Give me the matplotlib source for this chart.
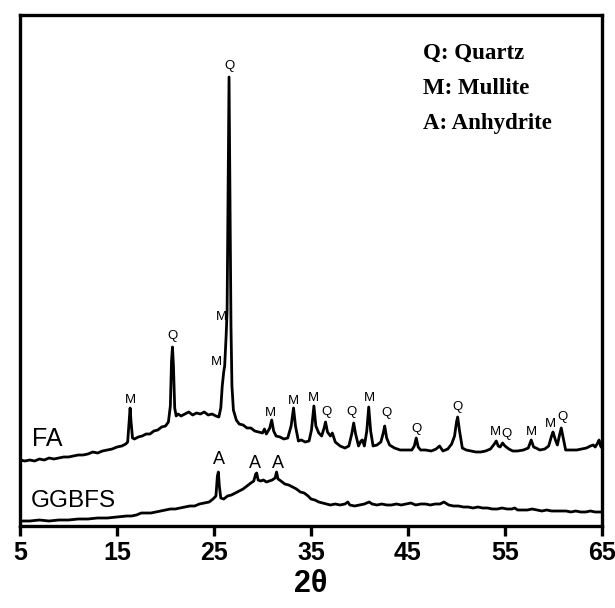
import matplotlib
matplotlib.use("Agg")
import matplotlib.pyplot as plt

# ---- data (2theta, intensity in arbitrary units) ----
fa_x = [5.0, 5.5, 6.0, 6.5, 7.0, 7.5, 8.0, 8.5, 9.0, 9.5, 10.0, 10.5, 11.0, 11.5, 12.0, 12.5,
        13.0, 13.5, 14.0, 14.5, 15.0, 15.5, 15.9, 16.1, 16.25, 16.35, 16.45, 16.6, 16.8, 17.2,
        17.6, 18.0, 18.4, 18.8, 19.2, 19.6, 20.0, 20.3, 20.5, 20.62, 20.72, 20.82, 20.95, 21.1,
        21.3, 21.6, 22.0, 22.4, 22.8, 23.2, 23.6, 24.0, 24.4, 24.8, 25.2, 25.5, 25.7, 25.85,
        26.0, 26.1, 26.25, 26.35, 26.45, 26.55, 26.65, 26.75, 26.85, 27.0, 27.3, 27.6, 28.0,
        28.4, 28.8, 29.2, 29.6, 30.0, 30.2, 30.4, 30.75, 30.95, 31.15, 31.4, 31.8, 32.2, 32.6,
        32.95, 33.2, 33.4, 33.7, 34.0, 34.4, 34.8, 35.05, 35.3, 35.5, 35.8, 36.1, 36.35, 36.5,
        36.7, 37.0, 37.2, 37.5, 38.0, 38.5, 38.9, 39.2, 39.4, 39.6, 39.9, 40.15, 40.3, 40.5,
        40.75, 40.95, 41.15, 41.4, 41.8, 42.2, 42.45, 42.6, 42.8, 43.1, 43.6, 44.2, 44.8, 45.4,
        45.65, 45.85, 46.05, 46.3, 46.8, 47.4, 47.9, 48.25, 48.6, 49.1, 49.5, 49.8, 50.0, 50.12,
        50.3, 50.6, 51.0, 51.5, 52.0, 52.5, 53.0, 53.5, 53.9, 54.1, 54.3, 54.5, 54.75, 55.0,
        55.4, 55.8, 56.3, 56.9, 57.4, 57.7, 57.95, 58.2, 58.6, 59.1, 59.5, 59.8, 59.95, 60.2,
        60.4, 60.6, 60.8, 61.0, 61.25, 61.8, 62.4, 62.9, 63.4, 63.8, 64.1, 64.3, 64.55, 64.7,
        64.85, 65.0]
fa_y = [66, 65, 66, 65, 67, 66, 68, 67, 68, 69, 69, 70, 71, 71, 72, 74,
        73, 75, 76, 77, 79, 80, 82, 84, 105, 118, 104, 88, 87, 89,
        90, 92, 92, 95, 96, 99, 100, 104, 120, 165, 179, 160, 118, 110,
        112, 110, 112, 114, 111, 113, 112, 114, 111, 112, 110, 109, 118, 140,
        154, 160, 190, 215, 330, 449, 330, 200, 140, 116, 106, 102, 101,
        98, 98, 95, 94, 93, 97, 92, 98, 106, 95, 90, 89, 87, 88,
        100, 118, 100, 85, 86, 84, 85, 96, 120, 100, 93, 90, 98, 104,
        94, 90, 93, 84, 80, 78, 80, 92, 103, 92, 80, 85, 86, 80,
        95, 119, 95, 80, 81, 84, 93, 100, 88, 81, 78, 76, 76, 76,
        80, 88, 79, 76, 76, 75, 77, 80, 75, 77, 82, 90, 104, 109,
        96, 78, 76, 75, 74, 74, 75, 77, 82, 85, 80, 79, 83, 80,
        77, 75, 75, 76, 78, 86, 79, 78, 76, 77, 80, 90, 94, 86,
        81, 90, 98, 88, 76, 76, 76, 77, 78, 80, 81, 79, 83, 86,
        80, 78]

gg_x = [5.0, 6.0, 7.0, 8.0, 9.0, 10.0, 11.0, 12.0, 13.0, 14.0, 15.0, 16.0, 16.5, 17.0, 17.5,
        18.0, 18.5, 19.0, 19.5, 20.0, 20.5, 21.0, 21.5, 22.0, 22.5, 23.0, 23.5, 24.0, 24.5,
        24.9, 25.2, 25.35, 25.45, 25.55, 25.7, 26.0, 26.4, 26.8, 27.2, 27.6, 28.0, 28.4, 28.8,
        29.1, 29.3, 29.4, 29.55, 29.8, 30.1, 30.4, 30.7, 31.0, 31.3, 31.45, 31.6, 31.9, 32.3,
        32.7, 33.1, 33.5, 33.9, 34.3, 34.7, 35.0, 35.4, 35.8, 36.2, 36.6, 37.0, 37.5, 38.0,
        38.5, 38.8, 39.0, 39.5, 40.0, 40.5, 41.0, 41.3, 41.8, 42.3, 42.8, 43.3, 43.8, 44.3,
        44.8, 45.3, 45.8, 46.3, 46.8, 47.3, 47.8, 48.3, 48.7, 49.2, 49.7, 50.2, 50.7, 51.2,
        51.7, 52.2, 52.7, 53.2, 53.7, 54.2, 54.7, 55.2, 55.7, 56.0, 56.3, 56.8, 57.3, 57.8,
        58.3, 58.8, 59.3, 59.8, 60.3, 60.8, 61.3, 61.8, 62.3, 62.8, 63.3, 63.8, 64.3, 65.0]
gg_y = [5, 5, 6, 5, 6, 6, 7, 7, 8, 8, 9, 10, 10, 11, 13,
        13, 13, 14, 15, 16, 17, 17, 18, 19, 20, 20, 22, 23, 24,
        27, 30, 50, 54, 40, 28, 27, 30, 31, 33, 35, 37, 40, 43,
        45, 52, 53, 46, 45, 46, 44, 45, 46, 48, 54, 47, 45, 42,
        41, 39, 37, 34, 33, 30, 27, 26, 24, 23, 22, 21, 22, 21,
        22, 24, 21, 20, 21, 22, 24, 22, 21, 22, 21, 21, 22, 21,
        22, 23, 21, 22, 22, 21, 22, 22, 24, 21, 20, 20, 19, 19,
        18, 19, 18, 18, 17, 17, 18, 17, 17, 18, 16, 16, 16, 17,
        16, 15, 16, 15, 15, 15, 15, 14, 15, 14, 14, 15, 14, 14]

# peak labels
pk_text = ["M", "Q", "M", "M", "Q", "M", "M", "M", "Q", "Q", "M", "Q", "Q", "Q",
           "M", "Q", "M", "M", "Q"]
pk_x = [16.38, 20.72, 25.3, 25.76, 26.56, 30.82, 33.16, 35.23, 36.61, 39.2, 41.02, 42.75,
        45.85, 50.12, 54.02, 55.16, 57.71, 59.71, 60.91]
pk_y = [126, 190, 164, 209, 460, 113, 125, 128, 114, 114, 128, 113,
        97, 119, 94, 92, 94, 102, 109]
a_text = ["A", "A", "A"]
a_x = [25.48, 29.27, 31.55]
a_y = [66, 63, 63]

legend_lines = ["Q: Quartz", "M: Mullite", "A: Anhydrite"]
xticks = [5, 15, 25, 35, 45, 55, 65]

fig = plt.figure(figsize=(6.15, 6.08), dpi=100)
ax = fig.add_axes([20 / 615, 82 / 608, 582 / 615, 511 / 608])

ax.plot(fa_x, fa_y, color="black", lw=2.0, solid_joinstyle="round")
ax.plot(gg_x, gg_y, color="black", lw=2.0, solid_joinstyle="round")

sans = ["Liberation Sans", "DejaVu Sans"]
for t, x, y in zip(pk_text, pk_x, pk_y):
    ax.text(x, y, t, ha="center", va="center", fontsize=9.5, family=sans)
for t, x, y in zip(a_text, a_x, a_y):
    ax.text(x, y, t, ha="center", va="center", fontsize=13, family=sans)

ax.text(6.2, 87, "FA", ha="left", va="center", fontsize=18, family=sans)
ax.text(6.1, 25, "GGBFS", ha="left", va="center", fontsize=17.5, family=sans)

for i, t in enumerate(legend_lines):
    ax.text(46.5, 473 - 35 * i, t, ha="left", va="center", fontsize=16.5,
            family=["Liberation Serif", "DejaVu Serif"], fontweight="bold")

ax.set_xlim(5, 65)
ax.set_ylim(0, 511)
ax.set_yticks([])
ax.set_xticks(xticks)
ax.set_xticklabels([str(v) for v in xticks], fontsize=18, fontweight="bold", family=sans)
ax.tick_params(axis="x", direction="out", length=7, width=2.4, pad=4)
for s in ax.spines.values():
    s.set_linewidth(2.4)
ax.set_xlabel("2θ", fontsize=22, fontweight="bold", family=sans, labelpad=3)

fig.savefig("out.png", dpi=100)
